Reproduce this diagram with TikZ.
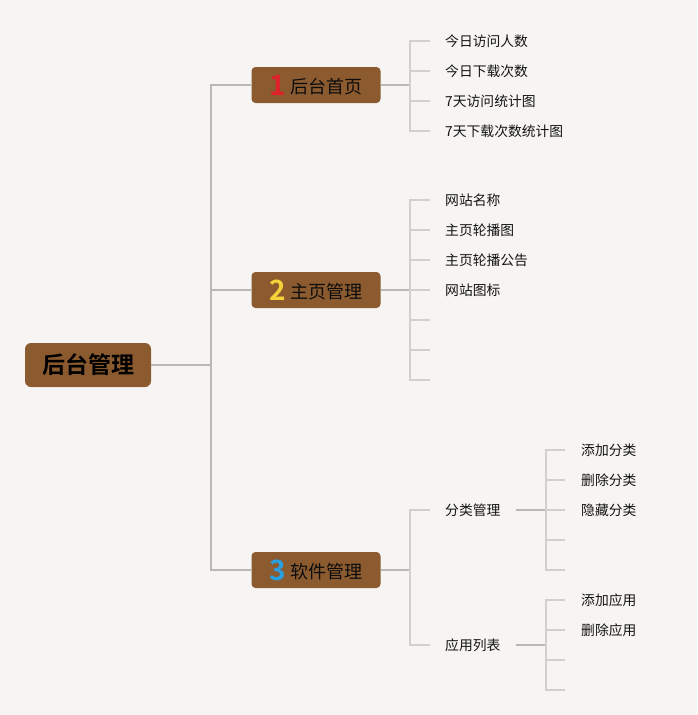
\documentclass[tikz,border=0pt]{standalone}
\usepackage{fontspec}
\setmainfont{Noto Sans CJK SC}
\newfontfamily\cjkb{Noto Sans CJK SC Bold}
\newcommand\mynumfont{\cjkb\fontsize{28}{28}\selectfont}
\definecolor{bg}{HTML}{F7F5F3}
\definecolor{brown}{HTML}{8B5A2E}
\definecolor{mainline}{HTML}{BAB7B3}
\definecolor{stubline}{HTML}{D2CFCC}
\definecolor{numred}{HTML}{E0202A}
\definecolor{numyel}{HTML}{F5D13A}
\definecolor{numblu}{HTML}{2A9FE0}
\begin{document}
\begin{tikzpicture}[x=1pt,y=-1pt,
  rootbox/.style={fill=brown,rounded corners=6pt,minimum width=126pt,minimum height=44pt,inner sep=0pt,font=\cjkb\fontsize{23}{26}\selectfont,text=black},
  topicbox/.style={fill=brown,rounded corners=4pt,minimum width=129pt,minimum height=36pt,inner sep=0pt,font=\fontsize{18}{20}\selectfont,text=black!95},
  leaf/.style={anchor=west,inner xsep=15pt,inner ysep=0pt,font=\fontsize{13.8}{16}\selectfont,text=black!92},
  mline/.style={draw=mainline,line width=1.4pt},
  sline/.style={draw=stubline,line width=1.4pt}]
\fill[bg] (0,0) rectangle (697,715);
\useasboundingbox (0,0) rectangle (697,715);

% root
\node[rootbox] (root) at (88,365) {后台管理};
\coordinate (j0) at (211,365);

% topics
\node[topicbox] (t1) at (316,85) {\raisebox{-1.5pt}{\mynumfont\color{numred}1}\hspace{5pt}后台首页};
\node[topicbox] (t2) at (316,290) {\raisebox{-1.5pt}{\mynumfont\color{numyel}2}\hspace{5pt}主页管理};
\node[topicbox] (t3) at (316,570) {\raisebox{-1.5pt}{\mynumfont\color{numblu}3}\hspace{5pt}软件管理};

\draw[mline] (root.east) -- (j0);
\draw[mline] (j0) |- (t1.west);
\draw[mline] (j0) |- (t2.west);
\draw[mline] (j0) |- (t3.west);

% topic 1 leaves
\coordinate (b1) at (410,85);
\draw[mline] (t1.east) -- (b1);
\node[leaf] (l11) at (430,41) {今日访问人数};
\node[leaf] (l12) at (430,71) {今日下载次数};
\node[leaf] (l13) at (430,101) {7天访问统计图};
\node[leaf] (l14) at (430,131) {7天下载次数统计图};
\foreach \n in {l11,l12,l13,l14} \draw[sline] (b1) |- (\n.west);

% topic 2 leaves
\coordinate (b2) at (410,290);
\draw[mline] (t2.east) -- (b2);
\node[leaf] (l21) at (430,200) {网站名称};
\node[leaf] (l22) at (430,230) {主页轮播图};
\node[leaf] (l23) at (430,260) {主页轮播公告};
\node[leaf] (l24) at (430,290) {网站图标};
\coordinate (l25) at (430,320);
\coordinate (l26) at (430,350);
\coordinate (l27) at (430,380);
\foreach \n in {l21,l22,l23,l24} \draw[sline] (b2) |- (\n.west);
\foreach \n in {l25,l26,l27} \draw[sline] (b2) |- (\n);

% topic 3
\coordinate (b3) at (410,570);
\draw[mline] (t3.east) -- (b3);
\node[leaf] (c1) at (430,510) {分类管理};
\node[leaf] (c2) at (430,645) {应用列表};
\draw[sline] (b3) |- (c1.west);
\draw[sline] (b3) |- (c2.west);

% 分类管理 leaves
\coordinate (b31) at (546,510);
\draw[mline] (c1.east) -- (b31);
\node[leaf,inner xsep=16pt] (m1) at (565,450) {添加分类};
\node[leaf,inner xsep=16pt] (m2) at (565,480) {删除分类};
\node[leaf,inner xsep=16pt] (m3) at (565,510) {隐藏分类};
\coordinate (m4) at (565,540);
\coordinate (m5) at (565,570);
\foreach \n in {m1,m2,m3} \draw[sline] (b31) |- (\n.west);
\foreach \n in {m4,m5} \draw[sline] (b31) |- (\n);

% 应用列表 leaves
\coordinate (b32) at (546,645);
\draw[mline] (c2.east) -- (b32);
\node[leaf,inner xsep=16pt] (a1) at (565,600) {添加应用};
\node[leaf,inner xsep=16pt] (a2) at (565,630) {删除应用};
\coordinate (a3) at (565,660);
\coordinate (a4) at (565,690);
\foreach \n in {a1,a2} \draw[sline] (b32) |- (\n.west);
\foreach \n in {a3,a4} \draw[sline] (b32) |- (\n);
\end{tikzpicture}
\end{document}
